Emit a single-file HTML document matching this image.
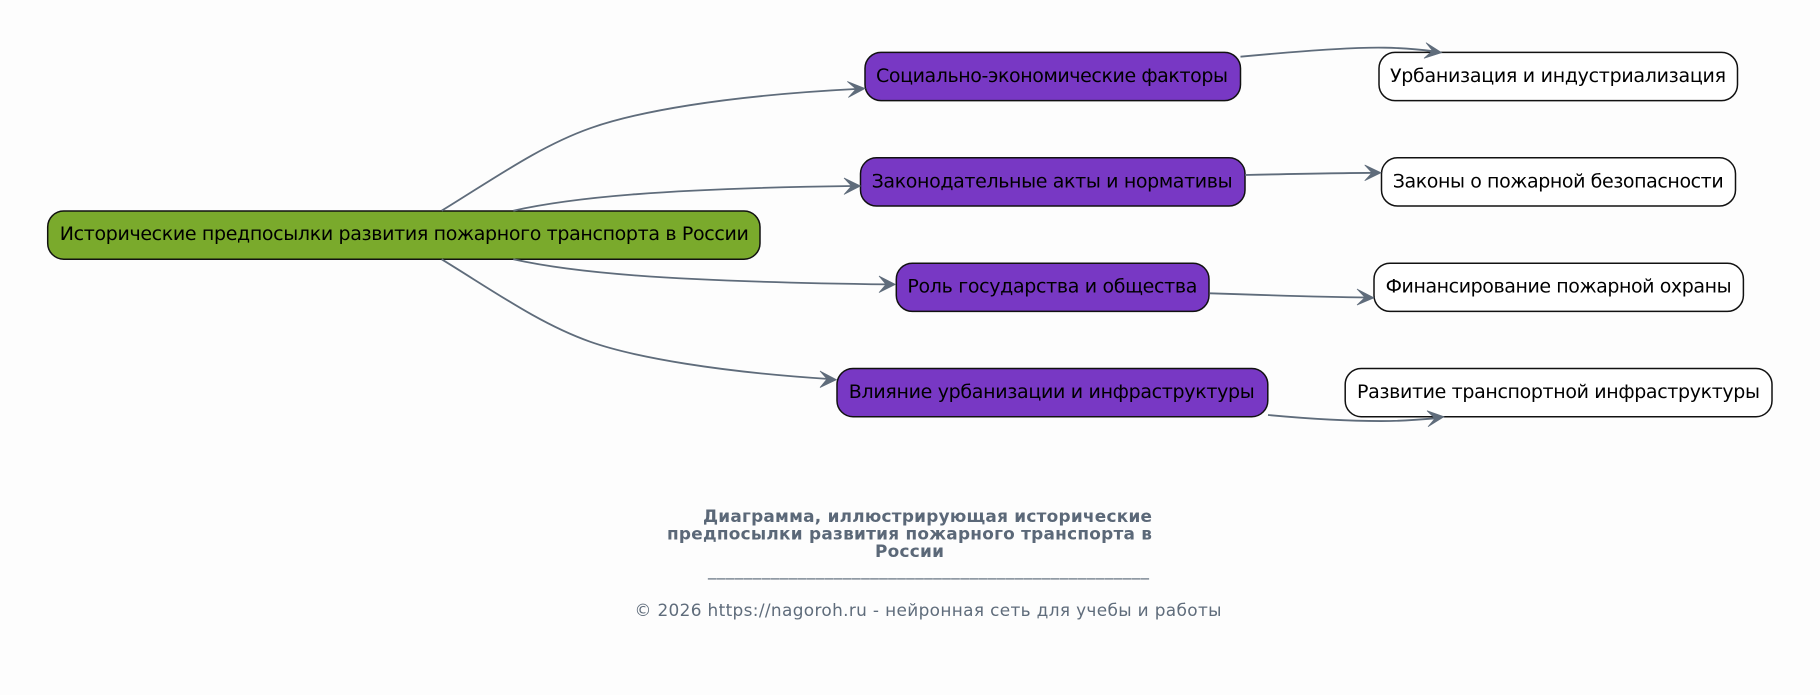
<!DOCTYPE html>
<html lang="ru"><head><meta charset="utf-8"><title>Диаграмма</title>
<style>html,body{margin:0;padding:0;background:#fdfdfd}svg{display:block}
text{font-family:"DejaVu Sans",sans-serif;font-size:19px;fill:#000}
.e{fill:none;stroke:#5f6c7b;stroke-width:1.8}
.a{fill:#5f6c7b;stroke:#5f6c7b;stroke-width:.7;stroke-linejoin:miter}
.g{fill:#7aaa2c;stroke:#111;stroke-width:1.5}
.p{fill:#7838c4;stroke:#111;stroke-width:1.5}
.w{fill:#fff;stroke:#111;stroke-width:1.5}
.t{font-weight:bold;font-size:16.9px;fill:#5b6878}
.f{font-size:16.9px;fill:#5f6c7b}
.u{font-size:16.9px;fill:#5f6c7b}
</style></head><body>
<svg width="1820" height="695" viewBox="0 0 1820 695" xmlns="http://www.w3.org/2000/svg">
<rect width="1820" height="695" fill="#fdfdfd"/>
<rect class="g" x="47.7" y="211" width="712.3" height="48.2" rx="16" ry="16"/>
<rect class="p" x="865" y="52.4" width="375.5" height="48.2" rx="16" ry="16"/>
<rect class="p" x="860.5" y="157.8" width="384.5" height="48.2" rx="16" ry="16"/>
<rect class="p" x="896.3" y="263.2" width="312.7" height="48.2" rx="16" ry="16"/>
<rect class="p" x="837" y="368.5" width="430.8" height="48.2" rx="16" ry="16"/>
<rect class="w" x="1379" y="52.4" width="358.5" height="48.2" rx="16" ry="16"/>
<rect class="w" x="1381.5" y="157.8" width="354" height="48.2" rx="16" ry="16"/>
<rect class="w" x="1374" y="263.2" width="369.4" height="48.2" rx="16" ry="16"/>
<rect class="w" x="1345.2" y="368.5" width="426.8" height="48.2" rx="16" ry="16"/>
<path class="e" d="M441.7,210.7C495,178 540,146 590,128.3C635,112.4 720,96 858,88.9"/>
<path class="e" d="M513.3,210.7C570,198 660,188.5 853,186"/>
<path class="e" d="M513.3,259.3C570,272 660,281.5 888,284.4"/>
<path class="e" d="M441.7,259.3C495,292 540,324 590,341.7C635,357.6 720,372 829,379"/>
<path class="e" d="M1240.5,56.7C1290,52 1350,47 1385,47.7C1405,48 1420,49.5 1434,51.3"/>
<path class="e" d="M1245,175C1290,174 1335,173 1374,172.8"/>
<path class="e" d="M1210,293.3C1260,295 1320,297 1367,297.5"/>
<path class="e" d="M1268,415C1300,418 1350,421.5 1390,421C1407,420.7 1422,419.5 1437,418.2"/>
<path class="a" d="M865,88.5L847.3,81.5L856,89L848.3,97.5Z"/>
<path class="a" d="M860.5,186L844,178L851.5,186L844,194.5Z"/>
<path class="a" d="M895.5,284.4L879,276L886,284.4L879,292.6Z"/>
<path class="a" d="M836.5,379.7L820,371L827,379L820,387.5Z"/>
<path class="a" d="M1441.7,52.7L1426,42.7L1432.5,50.8L1424,58.3Z"/>
<path class="a" d="M1381,172.7L1364.7,165L1372,172.8L1364.7,180.7Z"/>
<path class="a" d="M1374,297.8L1357,289L1365,297.4L1357,305Z"/>
<path class="a" d="M1444,416.7L1427,410.7L1435,418.5L1428,426.7Z"/>
<text x="59.8" y="240" textLength="689" lengthAdjust="spacing">Исторические предпосылки развития пожарного транспорта в России</text>
<text x="876" y="82" textLength="352" lengthAdjust="spacing">Социально-экономические факторы</text>
<text x="871.6" y="187.3" textLength="361" lengthAdjust="spacing">Законодательные акты и нормативы</text>
<text x="907.4" y="292.6" textLength="290" lengthAdjust="spacing">Роль государства и общества</text>
<text x="848.8" y="398" textLength="406" lengthAdjust="spacing">Влияние урбанизации и инфраструктуры</text>
<text x="1390" y="82" textLength="336" lengthAdjust="spacing">Урбанизация и индустриализация</text>
<text x="1392.7" y="187.3" textLength="331" lengthAdjust="spacing">Законы о пожарной безопасности</text>
<text x="1385.6" y="292.6" textLength="346" lengthAdjust="spacing">Финансирование пожарной охраны</text>
<text x="1357" y="398" textLength="403" lengthAdjust="spacing">Развитие транспортной инфраструктуры</text>
<text class="t" x="703" y="522" textLength="449" lengthAdjust="spacing">Диаграмма, иллюстрирующая исторические</text>
<text class="t" x="667" y="539.5" textLength="485" lengthAdjust="spacing">предпосылки развития пожарного транспорта в</text>
<text class="t" x="875" y="557" textLength="69" lengthAdjust="spacing">России</text>
<text class="u" x="708" y="575.5" textLength="441" lengthAdjust="spacing">_________________________________________________</text>
<text class="f" x="634.5" y="616" textLength="587" lengthAdjust="spacing">© 2026 https://nagoroh.ru - нейронная сеть для учебы и работы</text>
</svg>
</body></html>
